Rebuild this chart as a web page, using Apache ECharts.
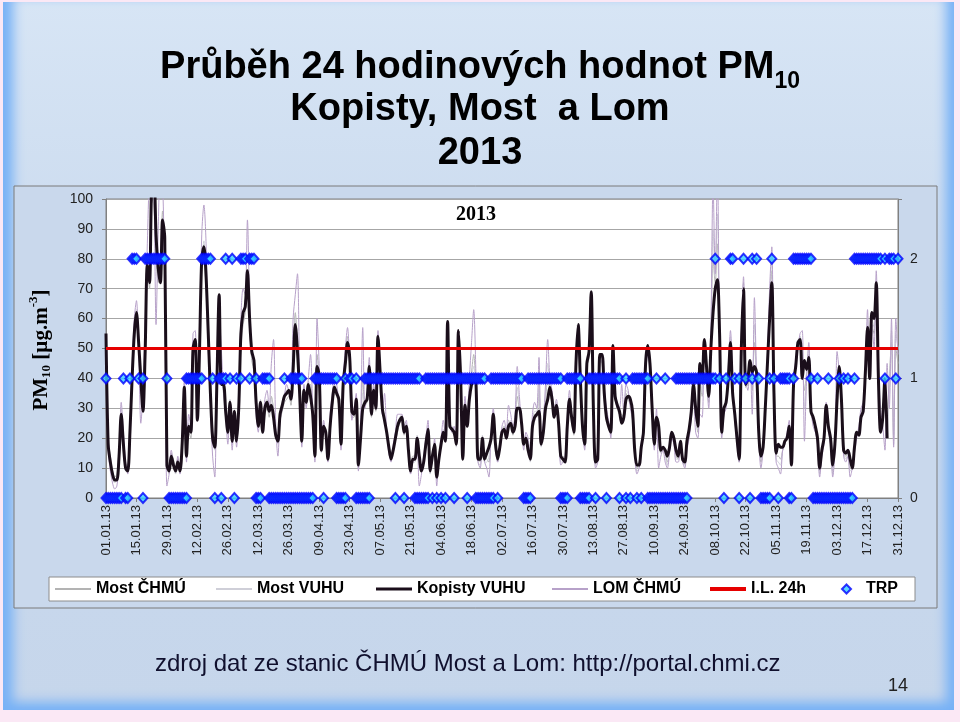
<!DOCTYPE html>
<html><head><meta charset="utf-8">
<script src="https://cdn.jsdelivr.net/npm/echarts@6/dist/echarts.min.js"></script>
<style>
html,body{margin:0;padding:0;width:960px;height:722px;overflow:hidden;background:#fbe8f5;}
#slide{position:absolute;left:3px;top:2px;width:951px;height:708px;
 background:linear-gradient(180deg,#d7e5f5 0%,#cadaee 40%,#c6d6eb 100%);
 box-shadow: inset 18px 0 12px -8px #78b2f6, inset -16px 0 12px -8px #78b2f6, inset 0 -16px 12px -8px #78b2f6;}
#chart{position:absolute;left:0;top:0;width:960px;height:722px;}
</style></head>
<body>
<div id="slide"></div>
<div id="chart"></div>
<script>
// ---------- DATA ----------
const categories = [];
for (let i = 0; i < 365; i++) {
  const d = new Date(Date.UTC(2013, 0, 1 + i));
  const dd = String(d.getUTCDate()).padStart(2, '0');
  const mm = String(d.getUTCMonth() + 1).padStart(2, '0');
  categories.push(dd + '.' + mm + '.13');
}
const tickLabels = ['01.01.13','15.01.13','29.01.13','12.02.13','26.02.13','12.03.13','26.03.13','09.04.13','23.04.13','07.05.13','21.05.13','04.06.13','18.06.13','02.07.13','16.07.13','30.07.13','13.08.13','27.08.13','10.09.13','24.09.13','08.10.13','22.10.13','05.11.13','19.11.13','03.12.13','17.12.13','31.12.13'];

const kopistyVuhu = [
55,18,12,8,6,6,14,28,18,10,
9,22,40,55,62,52,40,29,49,78,
72,105,108,88,77,72,93,87,11,9,
14,11,9,12,9,18,37,14,24,22,
50,53,26,50,80,84,74,55,35,20,
17,40,68,38,38,29,22,32,19,29,
19,30,55,62,64,76,60,49,46,32,
24,32,22,30,32,29,31,27,21,19,
28,31,34,35,36,33,43,58,49,35,
19,36,32,38,34,28,14,44,41,16,
24,22,13,24,32,37,35,33,18,38,
45,52,47,29,28,33,11,20,30,32,
33,44,28,36,30,54,42,30,26,22,
17,13,16,20,24,26,27,22,24,16,
9,13,13,20,14,9,12,18,23,9,
14,18,7,13,18,22,19,59,24,23,
22,18,56,40,13,31,24,33,38,40,
39,13,13,20,13,15,17,20,28,18,
13,17,22,23,20,24,25,22,24,30,
30,25,18,20,16,13,24,27,28,29,
18,22,30,33,37,33,27,31,25,14,
13,12,24,33,27,22,45,58,40,24,
18,45,49,69,30,12,13,48,48,35,
27,24,22,51,34,31,29,25,27,33,
34,33,29,16,11,11,17,22,45,51,
45,30,18,27,24,16,17,16,14,17,
22,20,16,14,19,13,12,19,23,29,
38,30,24,45,40,53,44,34,50,62,
70,73,55,22,30,32,40,52,35,28,
20,13,50,70,38,40,46,42,44,42,
22,14,17,30,45,60,72,35,15,18,
17,17,19,20,24,11,38,44,52,53,
40,46,43,47,29,27,24,20,10,16,
20,31,24,20,11,18,33,44,33,16,
15,16,13,10,17,22,21,27,29,42,
57,40,62,60,72,40,22,27,40,20,
null,null,null,null,null];

const lomChmu = [
53,16,9,5,3,4,12,32,22,12,
8,24,44,60,66,50,25,35,60,85,
108,112,104,58,90,110,106,70,4,8,
16,12,10,14,8,20,40,12,28,24,
55,56,30,52,88,98,85,50,30,14,
7,45,62,50,36,28,18,30,16,26,
17,33,60,70,68,93,65,50,44,28,
22,30,25,33,36,30,45,53,25,14,
26,30,34,38,36,35,60,68,75,40,
17,38,30,40,48,30,12,60,44,18,
26,20,12,28,35,40,38,32,16,40,
50,57,45,26,30,35,9,25,57,30,
35,47,30,38,33,56,40,28,35,22,
15,12,18,22,28,28,28,24,26,14,
8,12,14,18,4,8,14,20,26,10,
12,20,4,14,20,26,20,58,26,22,
24,20,50,38,16,34,26,40,52,63,
42,12,10,18,12,10,7,22,30,16,
12,18,24,26,22,31,28,24,28,44,
34,24,16,22,20,14,28,32,30,47,
20,26,38,53,40,36,30,33,26,11,
12,14,26,36,28,24,42,54,45,22,
16,44,48,66,28,10,12,45,46,38,
30,26,20,48,36,30,30,38,28,38,
36,30,26,14,8,10,18,24,42,48,
42,28,16,30,10,14,16,12,10,15,
20,18,12,12,16,12,10,16,20,26,
34,22,20,28,27,50,40,30,56,105,
75,110,50,20,28,30,44,56,40,26,
18,12,54,74,40,36,44,28,67,40,
20,10,16,28,48,70,84,30,12,10,
8,16,18,22,26,12,40,46,50,55,
56,19,40,52,30,24,22,18,7,14,
18,32,22,18,7,16,49,42,30,14,
12,14,7,10,15,20,24,30,32,40,
63,42,58,50,76,45,30,24,16,45,
30,60,17,60,48];

const mostChmu = [
52,20,14,9,7,8,16,25,15,11,
11,20,38,52,58,48,35,32,52,76,
70,100,98,80,72,78,96,80,14,10,
15,13,10,13,11,17,34,16,22,20,
46,50,28,47,76,80,70,50,32,22,
19,38,64,42,35,27,24,30,21,27,
21,28,50,58,62,72,56,46,42,30,
26,30,24,28,30,27,34,30,23,20,
26,29,32,33,34,31,46,62,52,32,
21,34,33,36,38,27,16,48,40,17,
22,23,15,22,30,35,34,31,20,36,
47,54,44,27,27,31,13,22,40,31,
32,45,27,34,29,52,40,29,28,21,
18,15,17,19,22,25,26,21,23,15,
11,14,14,19,10,10,13,17,22,11,
13,17,9,14,17,21,19,55,25,22,
21,19,52,39,15,29,25,34,42,48,
36,14,12,19,14,13,12,21,27,19,
14,16,21,24,21,26,25,21,25,34,
29,24,19,19,17,14,23,28,27,36,
19,23,32,40,36,32,28,30,24,13,
14,13,23,32,26,21,44,56,42,23,
17,44,47,64,29,13,14,46,45,34,
26,25,21,49,33,30,28,28,26,35,
33,31,27,15,10,12,16,23,43,49,
43,29,17,26,20,15,16,15,12,16,
21,19,14,13,18,12,11,18,22,27,
36,27,22,38,34,50,42,32,52,80,
72,85,52,21,29,31,41,53,36,27,
19,12,52,72,37,38,45,36,52,40,
20,12,16,29,46,64,76,32,14,14,
13,16,18,21,24,12,37,45,51,54,
46,36,42,48,28,26,23,19,9,15,
19,31,23,19,9,17,38,43,31,15,
14,15,10,10,16,21,22,28,30,38,
57,42,58,55,66,42,24,25,35,24,
40,52,20,50,45];

const mostVuhu = [
54,17,13,7,5,7,13,30,20,9,
10,23,42,57,63,54,38,30,50,74,
74,104,100,85,75,74,90,84,12,8,
13,12,8,11,10,19,36,15,25,23,
48,52,27,48,78,86,72,53,33,19,
16,42,66,40,37,30,21,33,18,28,
20,31,53,60,66,74,58,47,45,31,
25,33,23,31,33,28,33,29,22,18,
27,32,35,36,35,34,45,60,50,34,
18,37,31,39,36,29,15,46,42,15,
25,21,14,25,33,38,36,34,17,39,
46,53,46,28,29,34,10,21,35,33,
34,45,29,37,31,55,43,31,27,23,
16,14,15,21,25,27,28,23,25,15,
10,12,12,21,12,9,12,19,24,8,
15,19,6,12,19,23,20,57,25,24,
23,17,54,41,14,32,25,35,40,44,
38,12,11,21,12,12,14,19,29,17,
12,18,23,24,21,25,26,23,26,37,
31,26,17,21,18,12,25,29,29,38,
17,24,34,45,38,34,28,32,26,12,
12,13,25,34,28,23,46,57,41,25,
19,46,50,68,31,11,12,47,47,36,
28,25,23,50,35,32,30,27,27,36,
35,32,28,15,9,10,17,23,44,50,
44,31,17,28,22,15,17,14,11,16,
21,19,13,13,18,12,11,17,21,28,
37,28,23,40,35,52,43,33,53,90,
74,95,53,21,29,33,42,54,38,27,
21,12,51,71,39,39,45,38,58,41,
21,13,17,29,47,66,80,33,13,12,
11,16,19,21,25,11,39,45,52,54,
50,30,41,50,29,26,23,19,8,15,
19,31,23,19,8,17,42,43,32,15,
13,15,9,10,16,21,23,29,31,39,
60,41,60,57,70,38,23,26,38,22,
35,56,18,55,50];

const limit24h = 50;

// TRP levels present on each day (0, 1, 2)
const trp = [
"01","0","0","0","0","0","0","0","1","0",
"0","1","2","2","2","1","","01","2","2",
"2","2","2","2","2","2","2","2","1","0",
"0","0","0","0","0","0","0","01","1","1",
"1","1","1","1","12","2","2","2","2","1",
"0","","1","01","1","12","","1","2","0",
"1","","12","2","2","","12","2","2","01",
"0","0","1","1","1","01","0","0","0","0",
"0","0","01","0","0","01","01","01","01","01",
"01","0","0","0","0","0","1","1","1","1",
"01","1","1","1","1","1","01","0","0","0",
"01","","1","1","","01","0","0","0","01",
"01","01","1","1","1","1","1","1","1","1",
"1","1","1","01","1","1","1","01","1","1",
"1","1","01","01","01","0","0","01","01","1",
"01","1","01","1","01","1","01","1","1","1",
"01","1","1","1","1","1","01","1","1","1",
"01","01","01","01","01","0","0","01","01","1",
"01","1","1","1","1","1","1","1","1","1",
"1","1","0","0","01","01","1","1","1","1",
"1","1","1","1","1","1","1","1","1","01",
"0","0","01","1","1","1","1","1","01","0",
"0","0","01","1","1","01","1","1","1","1",
"01","1","1","1","1","1","01","","","01",
"","0","1","1","01","1","01","1","1","01",
"0","0","0","01","0","0","0","01","0","0",
"0","0","01","01","01","01","01","01","1","1",
"1","1","1","1","1","1","1","1","1","1",
"12","","1","","0","1","","2","2","1",
"","01","","2","1","","0","12","","2",
"1","0","0","0","0","01","2","1","","0",
"1","1","1","1","01","0","12","2","2","2",
"2","2","2","2","12","0","0","01","0","0",
"0","0","01","0","0","0","0","01","0","01",
"0","01","0","0","12","2","2","2","2","2",
"2","2","2","2","2","2","2","","12","",
"2","2","2","1","2"];

// ---------- BUILD ----------
const trpData = [];
trp.forEach((s, i) => { for (const c of s) trpData.push([i, Number(c)]); });

const FONT = '"Liberation Sans", Arial, sans-serif';
const SERIF = '"Liberation Serif", "Times New Roman", serif';
const ctx = document.createElement('canvas').getContext('2d');
function tw(t, f) { ctx.font = f; return ctx.measureText(t).width; }

const tf1 = 'bold 38px ' + FONT, tfSub = 'bold 23px ' + FONT;
const t1a = 'Průběh 24 hodinových hodnot PM', t1b = '10';
const w1a = tw(t1a, tf1), w1b = tw(t1b, tfSub);
const x1 = 480 - (w1a + w1b) / 2;

const yf = 'bold 21px ' + SERIF, yfs = 'bold 13px ' + SERIF;
const yParts = [['PM', yf, 0], ['10', yfs, 5], [' [µg.m', yf, 0], ['-3', yfs, -8], [']', yf, 0]];
let acc = 0; const yChildren = [];
yParts.forEach(([t, f, dy]) => {
  yChildren.push({type: 'text', x: acc, y: dy, style: {text: t, font: f, fill: '#000', align: 'left', verticalAlign: 'middle'}});
  acc += tw(t, f);
});

const C_MOSTCHMU = '#b3b3b3', C_MOSTVUHU = '#cfcfd8', C_LOM = '#b7a1c9', C_KOP = '#1a0e1a', C_IL = '#e60000';

const legendBase = {orient: 'horizontal', top: 581, padding: 0, itemGap: 0, selectedMode: false, itemWidth: 36,
  textStyle: {fontFamily: FONT, fontWeight: 'bold', fontSize: 16, color: '#000'}};

const option = {
  animation: false,
  backgroundColor: 'transparent',
  grid: {left: 106, right: 62, top: 199, bottom: 224, show: true, backgroundColor: '#ffffff', borderColor: '#808080', borderWidth: 1},
  xAxis: {
    type: 'category', data: categories, boundaryGap: false,
    axisLine: {lineStyle: {color: '#808080'}},
    axisTick: {interval: 13, length: 4, lineStyle: {color: '#808080'}},
    axisLabel: {interval: 13, rotate: 90, fontFamily: FONT, fontSize: 13, color: '#222', margin: 7,
      formatter: v => tickLabels.includes(v) ? v : ''},
    splitLine: {show: false}
  },
  yAxis: [
    {type: 'value', min: 0, max: 100, interval: 10, position: 'left',
     axisLine: {show: true, lineStyle: {color: '#808080'}},
     axisTick: {show: true, length: 4, lineStyle: {color: '#808080'}},
     axisLabel: {fontFamily: FONT, fontSize: 14, color: '#222', margin: 13},
     splitLine: {show: true, lineStyle: {color: '#a6a6a6', width: 1}}},
    {type: 'value', min: 0, max: 2.5, interval: 1, position: 'right',
     axisLine: {show: true, lineStyle: {color: '#808080'}},
     axisTick: {show: true, length: 4, lineStyle: {color: '#808080'}},
     axisLabel: {fontFamily: FONT, fontSize: 14, color: '#222', margin: 12,
       formatter: v => Number.isInteger(v) ? String(v) : ''},
     splitLine: {show: false}}
  ],
  legend: [
    Object.assign({}, legendBase, {left: 55, itemHeight: 2, data: [{name: 'Most ČHMÚ', icon: 'rect'}]}),
    Object.assign({}, legendBase, {left: 216, itemHeight: 2, data: [{name: 'Most VUHU', icon: 'rect'}]}),
    Object.assign({}, legendBase, {left: 376, itemHeight: 3, data: [{name: 'Kopisty VUHU', icon: 'rect'}]}),
    Object.assign({}, legendBase, {left: 552, itemHeight: 2, data: [{name: 'LOM ČHMÚ', icon: 'rect'}]}),
    Object.assign({}, legendBase, {left: 710, itemHeight: 4, data: [{name: 'I.L. 24h', icon: 'rect'}]}),
    Object.assign({}, legendBase, {left: 841, itemWidth: 9, itemHeight: 9,
      textStyle: Object.assign({}, legendBase.textStyle, {padding: [0, 0, 0, 10]}),
      data: [{name: 'TRP', icon: 'diamond'}]})
  ],
  graphic: [
    {type: 'rect', z: -10, shape: {x: 14, y: 186, width: 923, height: 422}, style: {fill: '#c9d8ec', stroke: '#7a7a7a', lineWidth: 1}},
    {type: 'rect', z: -5, shape: {x: 49, y: 577, width: 866, height: 24}, style: {fill: '#ffffff', stroke: '#8c8c8c', lineWidth: 1}},
    {type: 'text', z: 10, x: x1, y: 68, style: {text: t1a, font: tf1, fill: '#000', align: 'left', verticalAlign: 'middle'}},
    {type: 'text', z: 10, x: x1 + w1a, y: 82, style: {text: t1b, font: tfSub, fill: '#000', align: 'left', verticalAlign: 'middle'}},
    {type: 'text', z: 10, x: 480, y: 110, style: {text: 'Kopisty, Most  a Lom', font: tf1, fill: '#000', align: 'center', verticalAlign: 'middle'}},
    {type: 'text', z: 10, x: 480, y: 154, style: {text: '2013', font: tf1, fill: '#000', align: 'center', verticalAlign: 'middle'}},
    {type: 'text', z: 10, x: 476, y: 215, style: {text: '2013', font: 'bold 20px ' + SERIF, fill: '#000', align: 'center', verticalAlign: 'middle'}},
    {type: 'group', z: 10, x: 42, y: 350 + acc / 2, rotation: Math.PI / 2, children: yChildren},
    {type: 'text', z: 10, x: 155, y: 664, style: {text: 'zdroj dat ze stanic ČHMÚ Most a Lom: http://portal.chmi.cz', font: '24px ' + FONT, fill: '#10102e', align: 'left', verticalAlign: 'middle'}},
    {type: 'text', z: 10, x: 888, y: 686, style: {text: '14', font: '18px ' + FONT, fill: '#222', align: 'left', verticalAlign: 'middle'}}
  ],
  series: [
    {name: 'Most ČHMÚ', type: 'line', data: mostChmu, symbol: 'none', smooth: 0.3, silent: true, z: 2,
     lineStyle: {color: C_MOSTCHMU, width: 1}, itemStyle: {color: C_MOSTCHMU}},
    {name: 'Most VUHU', type: 'line', data: mostVuhu, symbol: 'none', smooth: 0.3, silent: true, z: 2,
     lineStyle: {color: C_MOSTVUHU, width: 1}, itemStyle: {color: C_MOSTVUHU}},
    {name: 'LOM ČHMÚ', type: 'line', data: lomChmu, symbol: 'none', smooth: 0.3, silent: true, z: 2,
     lineStyle: {color: C_LOM, width: 1}, itemStyle: {color: C_LOM}},
    {name: 'Kopisty VUHU', type: 'line', data: kopistyVuhu, symbol: 'none', smooth: 0.3, silent: true, z: 3,
     lineStyle: {color: C_KOP, width: 3}, itemStyle: {color: C_KOP}},
    {name: 'I.L. 24h', type: 'line', data: [], symbol: 'none', z: 4,
     lineStyle: {color: C_IL, width: 3}, itemStyle: {color: C_IL},
     markLine: {silent: true, symbol: 'none', label: {show: false}, lineStyle: {color: C_IL, width: 3, type: 'solid'},
       data: [{yAxis: limit24h}]}},
    {name: 'TRP', type: 'scatter', yAxisIndex: 1, data: trpData, symbol: 'diamond', symbolSize: [9, 10], z: 5, silent: true,
     itemStyle: {color: '#33ccff', borderColor: '#0000ff', borderWidth: 2}}
  ]
};

const chart = echarts.init(document.getElementById('chart'));
chart.setOption(option);
</script>
</body></html>
